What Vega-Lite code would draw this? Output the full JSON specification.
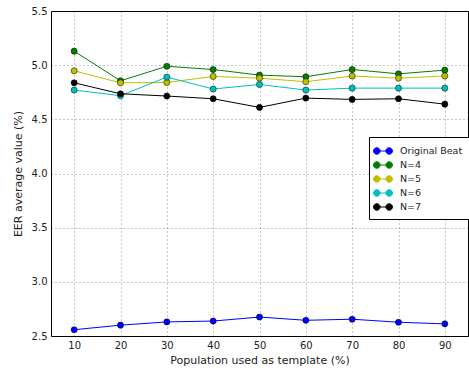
{
  "$schema": "https://vega.github.io/schema/vega-lite/v6.json",
  "width": 417,
  "height": 325,
  "autosize": {"type": "none"},
  "padding": {"left": 51, "top": 11, "right": 1, "bottom": 36},
  "background": "white",
  "config": {
    "font": "DejaVu Sans",
    "view": {"stroke": "black", "strokeWidth": 1},
    "axis": {
      "labelFont": "DejaVu Sans", "titleFont": "DejaVu Sans",
      "labelFontSize": 10, "titleFontSize": 11, "labelColor": "#222", "titleColor": "#222",
      "titleFontWeight": "normal", "domain": false, "ticks": false,
      "grid": true, "gridColor": "#000", "gridOpacity": 0.45, "gridDash": [1, 3], "gridWidth": 1
    }
  },
  "data": {"values": [
    {"s": "Original Beat", "x": 10, "y": 2.558}, {"s": "Original Beat", "x": 20, "y": 2.600}, {"s": "Original Beat", "x": 30, "y": 2.630},
    {"s": "Original Beat", "x": 40, "y": 2.638}, {"s": "Original Beat", "x": 50, "y": 2.675}, {"s": "Original Beat", "x": 60, "y": 2.645},
    {"s": "Original Beat", "x": 70, "y": 2.655}, {"s": "Original Beat", "x": 80, "y": 2.627}, {"s": "Original Beat", "x": 90, "y": 2.612},
    {"s": "N=4", "x": 10, "y": 5.129}, {"s": "N=4", "x": 20, "y": 4.856}, {"s": "N=4", "x": 30, "y": 4.990},
    {"s": "N=4", "x": 40, "y": 4.960}, {"s": "N=4", "x": 50, "y": 4.908}, {"s": "N=4", "x": 60, "y": 4.893},
    {"s": "N=4", "x": 70, "y": 4.960}, {"s": "N=4", "x": 80, "y": 4.920}, {"s": "N=4", "x": 90, "y": 4.954},
    {"s": "N=5", "x": 10, "y": 4.948}, {"s": "N=5", "x": 20, "y": 4.837}, {"s": "N=5", "x": 30, "y": 4.840},
    {"s": "N=5", "x": 40, "y": 4.896}, {"s": "N=5", "x": 50, "y": 4.880}, {"s": "N=5", "x": 60, "y": 4.847},
    {"s": "N=5", "x": 70, "y": 4.900}, {"s": "N=5", "x": 80, "y": 4.880}, {"s": "N=5", "x": 90, "y": 4.900},
    {"s": "N=6", "x": 10, "y": 4.770}, {"s": "N=6", "x": 20, "y": 4.718}, {"s": "N=6", "x": 30, "y": 4.890},
    {"s": "N=6", "x": 40, "y": 4.780}, {"s": "N=6", "x": 50, "y": 4.822}, {"s": "N=6", "x": 60, "y": 4.770},
    {"s": "N=6", "x": 70, "y": 4.788}, {"s": "N=6", "x": 80, "y": 4.788}, {"s": "N=6", "x": 90, "y": 4.788},
    {"s": "N=7", "x": 10, "y": 4.837}, {"s": "N=7", "x": 20, "y": 4.736}, {"s": "N=7", "x": 30, "y": 4.715},
    {"s": "N=7", "x": 40, "y": 4.690}, {"s": "N=7", "x": 50, "y": 4.610}, {"s": "N=7", "x": 60, "y": 4.696},
    {"s": "N=7", "x": 70, "y": 4.684}, {"s": "N=7", "x": 80, "y": 4.690}, {"s": "N=7", "x": 90, "y": 4.640}
  ]},
  "encoding": {
    "x": {"field": "x", "type": "quantitative",
      "scale": {"domain": [5, 95], "nice": false, "zero": false},
      "axis": {"values": [10, 20, 30, 40, 50, 60, 70, 80, 90], "title": "Population used as template (%)", "labelPadding": 4, "titlePadding": 4}},
    "y": {"field": "y", "type": "quantitative",
      "scale": {"domain": [2.5, 5.5], "nice": false, "zero": false},
      "axis": {"values": [2.5, 3.0, 3.5, 4.0, 4.5, 5.0, 5.5], "format": ".1f", "title": "EER average value (%)", "labelPadding": 4, "titlePadding": 8}},
    "color": {"field": "s", "type": "nominal",
      "scale": {"domain": ["Original Beat", "N=4", "N=5", "N=6", "N=7"], "range": ["#0000ff", "#008000", "#bfbf00", "#00bfbf", "#000000"]},
      "legend": {
        "title": null, "orient": "none", "legendX": 318, "legendY": 126,
        "strokeColor": "black", "fillColor": "white", "padding": 6, "cornerRadius": 0,
        "labelFont": "DejaVu Sans", "labelFontSize": 9.5, "labelColor": "#222",
        "symbolType": "M-1.3,0L1.3,0M-0.4,0A0.45,0.45,0,1,1,-1.3,0A0.45,0.45,0,1,1,-0.4,0ZM1.3,0A0.45,0.45,0,1,1,0.4,0A0.45,0.45,0,1,1,1.3,0Z",
        "symbolSize": 210, "symbolStrokeWidth": 1, "rowPadding": 0, "labelOffset": 9,
        "encode": {"symbols": {"update": {"fill": {"scale": "color", "field": "value"}, "stroke": {"scale": "color", "field": "value"}, "opacity": {"value": 1}}}}
      }}
  },
  "layer": [
    {"mark": {"type": "line", "strokeWidth": 1}},
    {"mark": {"type": "point", "filled": true, "size": 38, "opacity": 1, "stroke": "#000", "strokeWidth": 0.5}}
  ]
}
